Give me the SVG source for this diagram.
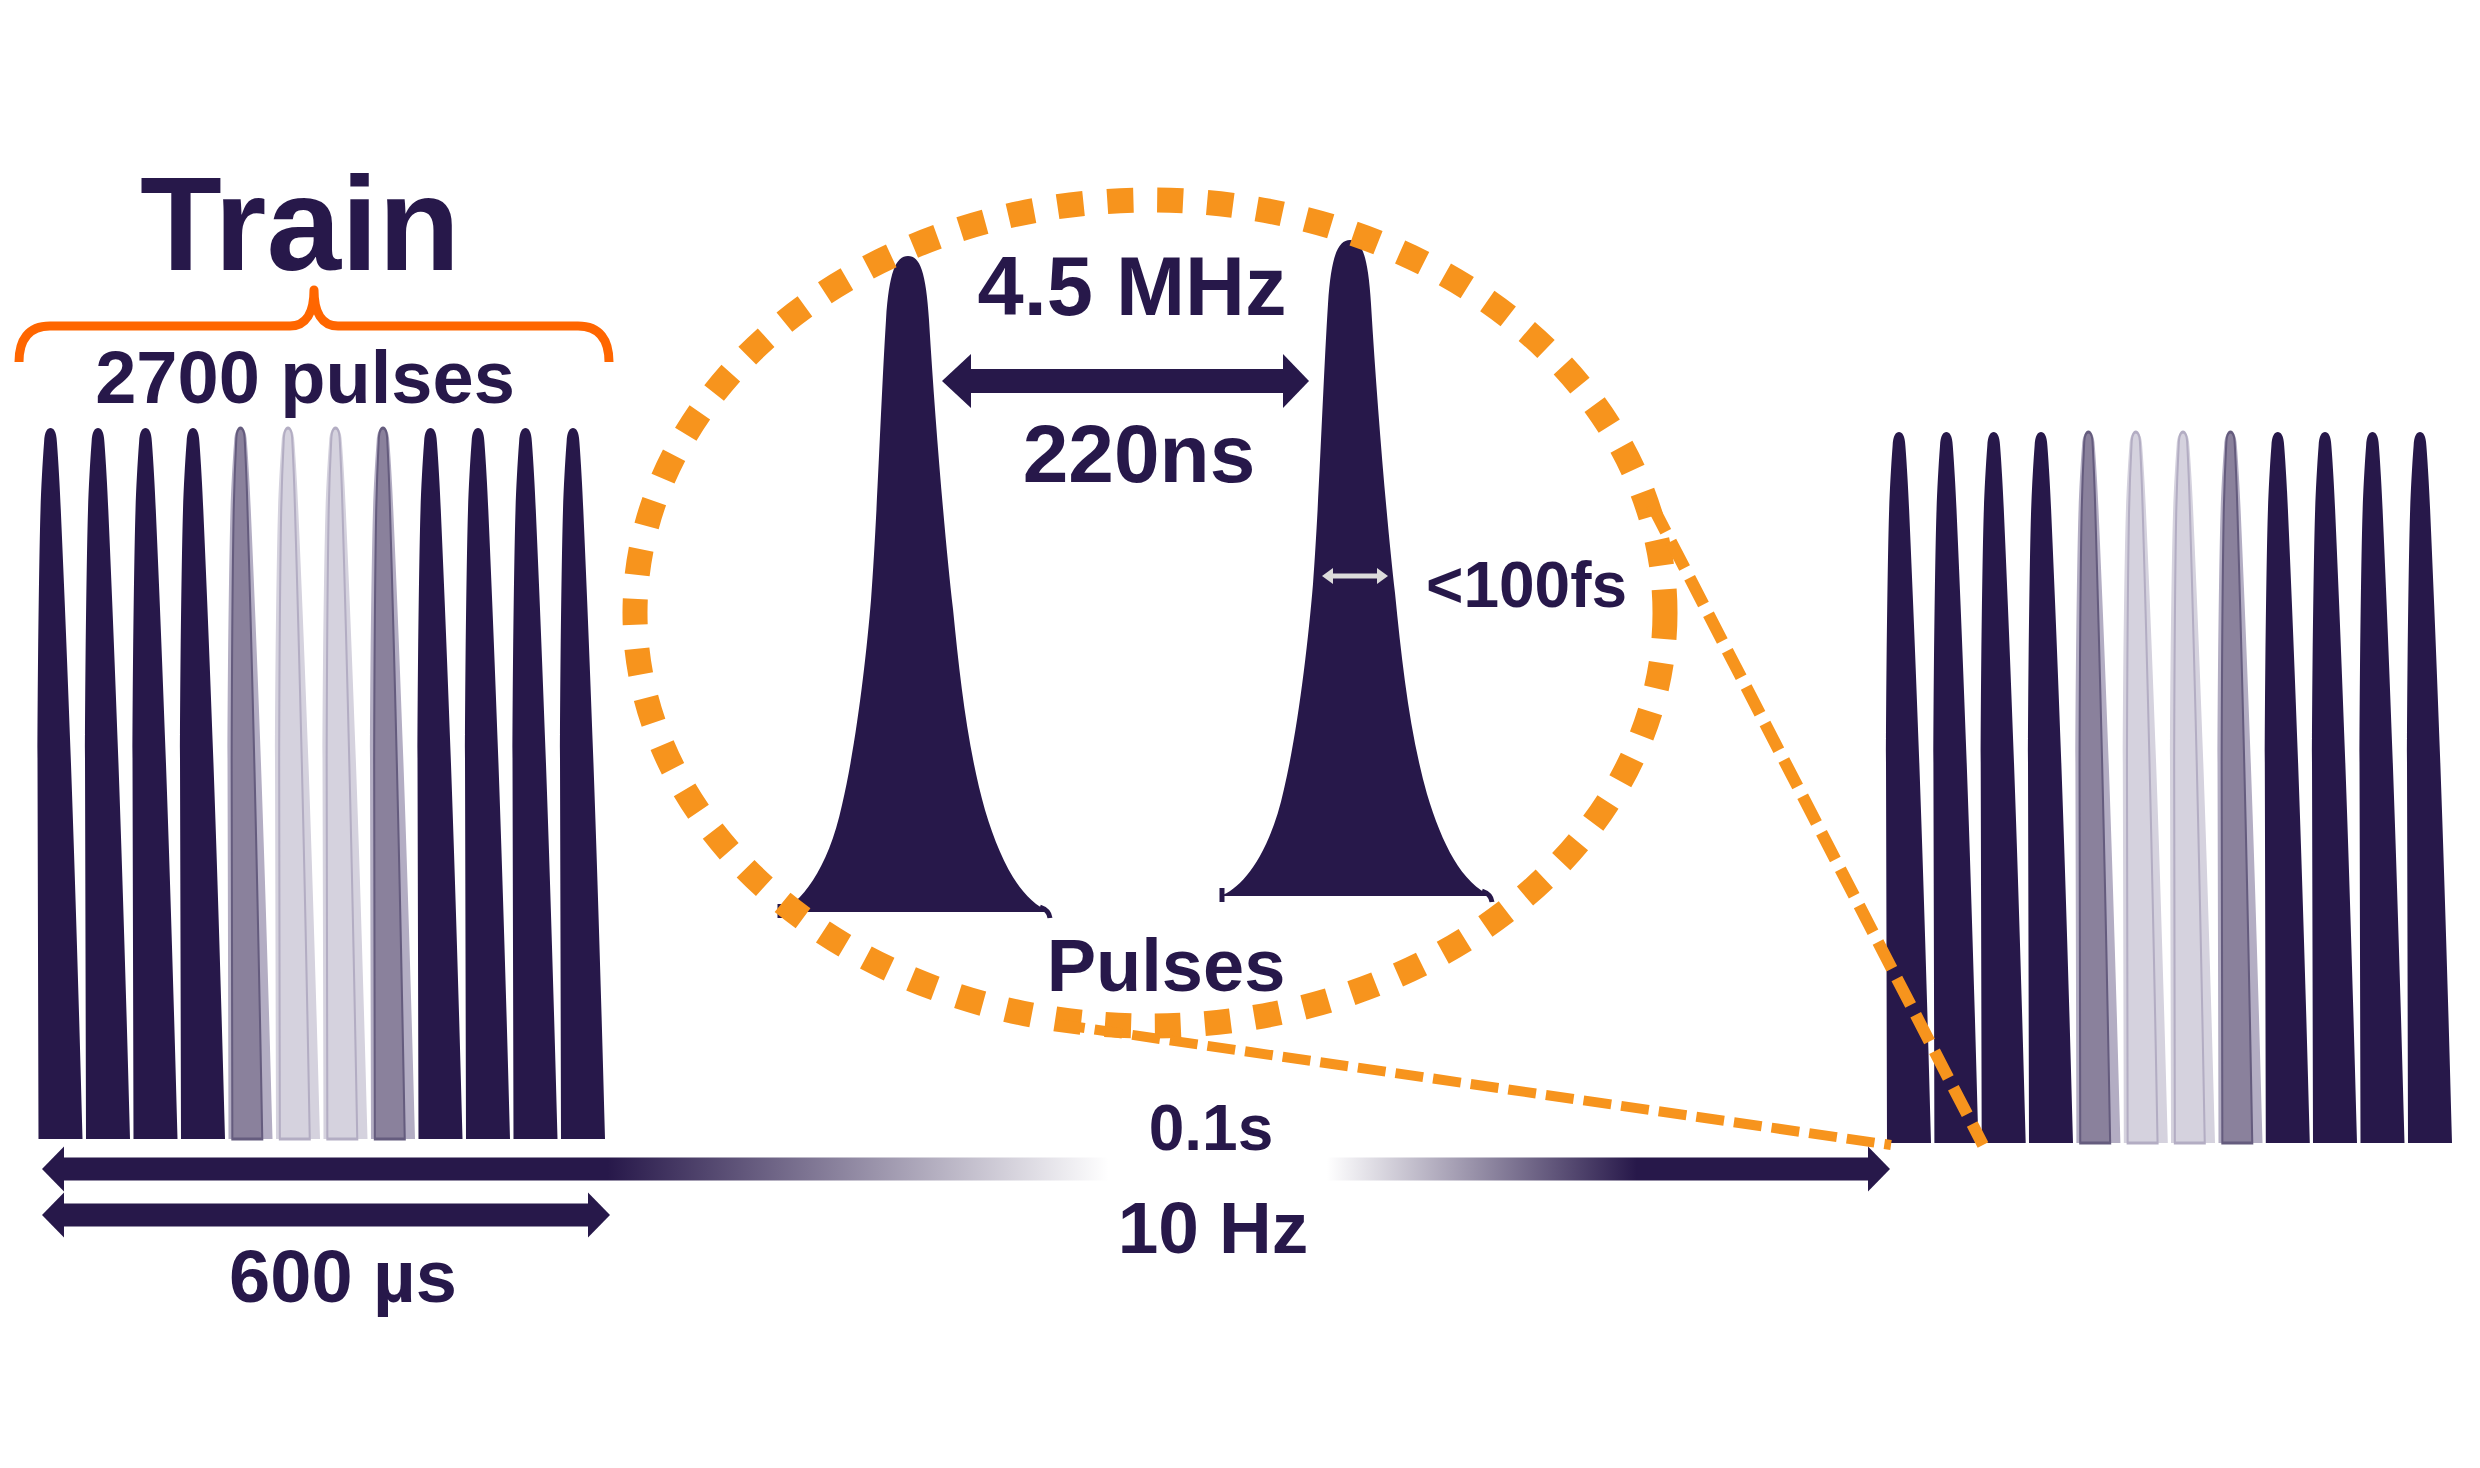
<svg xmlns="http://www.w3.org/2000/svg" width="2480" height="1468" viewBox="0 0 2480 1468">
<defs>
<style>
.t{font-family:"Liberation Sans",Arial,sans-serif;font-weight:bold;fill:#27184a;text-anchor:middle}
.d{fill:#27184a}
.m1{fill:#b3adc3}
.m2{fill:#8a819c;stroke:#655c7e;stroke-width:3}
.l1{fill:#d5d2de}
.l2{fill:#d5d2de;stroke:#b3adc3;stroke-width:3}
.dashA{fill:none;stroke:#f7941d;stroke-width:12;stroke-dasharray:30 11}
.dashB{fill:none;stroke:#f7941d;stroke-width:10;stroke-dasharray:28 10}
</style>
<path id="p" d="M -12 711 L -13 330 C -12.5 200 -11 120 -10 82 C -9.3 60 -8 35 -6.4 14 C -6 3 -3 0 0 0 C 3 0 6 3 6.4 14 C 8 35 9.4 60 10.3 82 C 19 280 25 450 32 711 Z"/>
<path id="big" d="M 778 912 C 800 905 828 870 842 805 C 856 745 866 660 871 600 C 877 520 881 400 886 320 C 889 272 896 256 908 256 C 920 256 926 272 929 320 C 935 420 945 540 953 609 C 960 680 968 750 985 810 C 1000 860 1020 900 1050 912 Z"/>
<linearGradient id="g" gradientUnits="userSpaceOnUse" x1="0" y1="0" x2="2480" y2="0">
<stop offset="0.245" stop-color="#27184a"/>
<stop offset="0.447" stop-color="#27184a" stop-opacity="0"/>
<stop offset="0.535" stop-color="#27184a" stop-opacity="0"/>
<stop offset="0.66" stop-color="#27184a"/>
</linearGradient>
</defs>
<rect width="2480" height="1468" fill="#ffffff"/>

<g id="train-left">
<use href="#p" class="d" x="50.5" y="428"/>
<use href="#p" class="d" x="98" y="428"/>
<use href="#p" class="d" x="145.5" y="428"/>
<use href="#p" class="d" x="193" y="428"/>
<g transform="translate(240.5,428)"><use href="#p" class="m1"/><use href="#p" class="m2" transform="scale(0.68,1)"/></g>
<g transform="translate(288,428)"><use href="#p" class="l1"/><use href="#p" class="l2" transform="scale(0.68,1)"/></g>
<g transform="translate(335.5,428)"><use href="#p" class="l1"/><use href="#p" class="l2" transform="scale(0.68,1)"/></g>
<g transform="translate(383,428)"><use href="#p" class="m1"/><use href="#p" class="m2" transform="scale(0.68,1)"/></g>
<use href="#p" class="d" x="430.5" y="428"/>
<use href="#p" class="d" x="478" y="428"/>
<use href="#p" class="d" x="525.5" y="428"/>
<use href="#p" class="d" x="573" y="428"/>
</g>

<g id="train-right">
<use href="#p" class="d" x="1899" y="432"/>
<use href="#p" class="d" x="1946.4" y="432"/>
<use href="#p" class="d" x="1993.7" y="432"/>
<use href="#p" class="d" x="2041" y="432"/>
<g transform="translate(2088.4,432)"><use href="#p" class="m1"/><use href="#p" class="m2" transform="scale(0.68,1)"/></g>
<g transform="translate(2135.8,432)"><use href="#p" class="l1"/><use href="#p" class="l2" transform="scale(0.68,1)"/></g>
<g transform="translate(2183,432)"><use href="#p" class="l1"/><use href="#p" class="l2" transform="scale(0.68,1)"/></g>
<g transform="translate(2230.5,432)"><use href="#p" class="m1"/><use href="#p" class="m2" transform="scale(0.68,1)"/></g>
<use href="#p" class="d" x="2277.8" y="432"/>
<use href="#p" class="d" x="2325" y="432"/>
<use href="#p" class="d" x="2372.5" y="432"/>
<use href="#p" class="d" x="2420" y="432"/>
</g>

<g id="train-label">
<text class="t" x="300" y="270" font-size="134">Train</text>
<path d="M 19 362 C 19 340 28 326 50 326 L 290 326 C 306 326 314 312 314 290 C 314 312 322 326 338 326 L 578 326 C 600 326 609 340 609 362" fill="none" stroke="#ff6600" stroke-width="9" stroke-linejoin="round"/>
<text class="t" x="305" y="403" font-size="74">2700 pulses</text>
</g>

<g id="pulse-a">
<use href="#big" class="d"/>
<path d="M 780 904 L 780 918 M 1040 907 Q 1049 910 1050 918" fill="none" stroke="#27184a" stroke-width="5"/>
</g>
<g id="pulse-b" transform="translate(442,-16)">
<use href="#big" class="d"/>
<path d="M 780 904 L 780 918 M 1040 907 Q 1049 910 1050 918" fill="none" stroke="#27184a" stroke-width="5"/>
</g>

<g id="zoom-circle">
<ellipse cx="1150" cy="613" rx="515" ry="413" fill="none" stroke="#f7941d" stroke-width="25" stroke-dasharray="26 24"/>
</g>

<g id="labels">
<text class="t" x="1132" y="315" font-size="83">4.5 MHz</text>
<text class="t" x="1139" y="482" font-size="82">220ns</text>
<text class="t" x="1426" y="607" font-size="64" style="text-anchor:start">&lt;100fs</text>
<text class="t" x="1166" y="991" font-size="74">Pulses</text>
<text class="t" x="1211" y="1150" font-size="64">0.1s</text>
<text class="t" x="1213" y="1253" font-size="73">10 Hz</text>
<text class="t" x="343" y="1302" font-size="74">600 µs</text>
</g>

<g id="connectors">
<path class="dashA" d="M 1652 505 L 1983 1145"/>
<path class="dashB" d="M 1057 1024 L 1891 1145"/>
<rect x="60" y="1157.5" width="1812" height="23" fill="url(#g)"/>
<polygon class="d" points="42,1169 64,1146.5 64,1191.5"/>
<polygon class="d" points="1890,1169 1868,1146.5 1868,1191.5"/>
<rect class="d" x="60" y="1203.5" width="532" height="23"/>
<polygon class="d" points="42,1215 64,1192.5 64,1237.5"/>
<polygon class="d" points="610,1215 588,1192.5 588,1237.5"/>
<rect class="d" x="965" y="369" width="322" height="24"/>
<polygon class="d" points="942,381 971,354 971,408"/>
<polygon class="d" points="1309,381 1283,354 1283,408"/>
<line x1="1330" y1="576" x2="1380" y2="576" stroke="#dcdcdc" stroke-width="5"/>
<polygon points="1322,576 1333,568 1333,584" fill="#dcdcdc"/>
<polygon points="1388,576 1377,568 1377,584" fill="#dcdcdc"/>
</g>
</svg>
